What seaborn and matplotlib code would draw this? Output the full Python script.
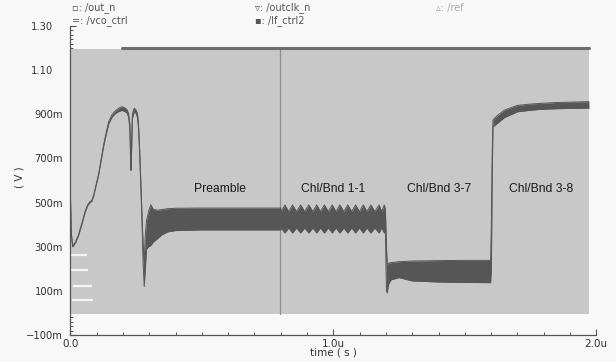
import numpy as np
import pandas as pd
import matplotlib
matplotlib.use("Agg")
import matplotlib.pyplot as plt
import seaborn as sns
from matplotlib.ticker import FixedLocator, MultipleLocator

# ---------------- data (time in microseconds, voltage in volts) ----------------
# vco_ctrl envelope: startup + preamble
t_start = [0.000, 0.004, 0.009, 0.020, 0.031, 0.045, 0.056, 0.066, 0.075, 0.082,
           0.089, 0.098, 0.108, 0.118, 0.127, 0.137, 0.146, 0.158, 0.171, 0.185,
           0.196, 0.207, 0.215, 0.221, 0.226, 0.229, 0.231, 0.233, 0.236, 0.243,
           0.249, 0.255, 0.259, 0.263, 0.268, 0.272, 0.277, 0.281, 0.285, 0.290,
           0.298, 0.306, 0.315, 0.330, 0.347, 0.370, 0.400, 0.500, 0.600, 0.700,
           0.800]
hi_start = [0.56, 0.36, 0.303, 0.322, 0.353, 0.41, 0.458, 0.49, 0.504, 0.51,
            0.534, 0.58, 0.63, 0.70, 0.762, 0.82, 0.866, 0.897, 0.915, 0.928,
            0.934, 0.929, 0.921, 0.905, 0.86, 0.75, 0.66, 0.78, 0.90, 0.927,
            0.921, 0.905, 0.86, 0.76, 0.60, 0.46, 0.30, 0.24, 0.35, 0.42,
            0.46, 0.49, 0.47, 0.465, 0.468, 0.472, 0.474, 0.475, 0.475, 0.475,
            0.475]
lo_start = [0.556, 0.356, 0.299, 0.318, 0.349, 0.406, 0.454, 0.486, 0.50, 0.506,
            0.53, 0.576, 0.626, 0.695, 0.756, 0.812, 0.856, 0.886, 0.903, 0.913,
            0.917, 0.913, 0.906, 0.89, 0.84, 0.70, 0.645, 0.73, 0.88, 0.912,
            0.905, 0.887, 0.84, 0.74, 0.58, 0.44, 0.22, 0.119, 0.20, 0.29,
            0.30, 0.305, 0.32, 0.335, 0.353, 0.367, 0.373, 0.376, 0.376, 0.376,
            0.376]

# Chl/Bnd 1-1 ripple: alternating trough / peak instants
t_ripple = [0.802, 0.816, 0.830, 0.845, 0.860, 0.876, 0.891, 0.907, 0.922, 0.937,
            0.951, 0.966, 0.981, 0.996, 1.010, 1.025, 1.040, 1.055, 1.070, 1.085,
            1.099, 1.114, 1.128, 1.143, 1.158, 1.174, 1.184, 1.194, 1.198]
hi_ripple = [0.459, 0.489, 0.459, 0.489, 0.459, 0.489, 0.459, 0.489, 0.459, 0.489,
             0.459, 0.489, 0.459, 0.489, 0.459, 0.489, 0.459, 0.489, 0.459, 0.489,
             0.459, 0.489, 0.459, 0.489, 0.459, 0.489, 0.459, 0.489, 0.47]
lo_ripple = [0.385, 0.362, 0.385, 0.362, 0.385, 0.362, 0.385, 0.362, 0.385, 0.362,
             0.385, 0.362, 0.385, 0.362, 0.385, 0.362, 0.385, 0.362, 0.385, 0.362,
             0.385, 0.362, 0.385, 0.362, 0.385, 0.362, 0.385, 0.362, 0.37]

# Chl/Bnd 3-7 and Chl/Bnd 3-8
t_late = [1.202, 1.205, 1.210, 1.220, 1.250, 1.300, 1.400, 1.500, 1.598,
          1.601, 1.604, 1.607, 1.620, 1.651, 1.700, 1.750, 1.787, 1.850, 1.972]
hi_late = [0.30, 0.22, 0.225, 0.228, 0.232, 0.235, 0.237, 0.238, 0.238,
           0.40, 0.70, 0.874, 0.89, 0.919, 0.940, 0.946, 0.949, 0.953, 0.957]
lo_late = [0.10, 0.09, 0.13, 0.15, 0.16, 0.145, 0.14, 0.138, 0.137,
           0.20, 0.60, 0.843, 0.855, 0.885, 0.911, 0.918, 0.922, 0.925, 0.928]

# dense clock trace (outclk_n) that fills the background, and the /ref rail
clk_t = [0.0, 1.972]
clk_lo = [-0.005, -0.005]
clk_hi = [1.195, 1.195]
ref_t = [0.197, 1.600, 1.600, 1.972]
ref_v = [1.201, 1.201, 1.199, 1.199]
cursor_t = 0.797

# white dashes of lf_ctrl2 near the start
dash_v = [0.262, 0.194, 0.122, 0.058]
dash_t0 = [0.0, 0.0, 0.01, 0.007]
dash_t1 = [0.063, 0.067, 0.083, 0.087]

region_labels = ["Preamble", "Chl/Bnd 1-1", "Chl/Bnd 3-7", "Chl/Bnd 3-8"]
region_t = [0.571, 0.998, 1.403, 1.79]
region_v = [0.56, 0.56, 0.56, 0.56]

ytick_vals = [-0.1, 0.1, 0.3, 0.5, 0.7, 0.9, 1.1, 1.3]
ytick_labels = ["\u2212100m", "100m", "300m", "500m", "700m", "900m", "1.10", "1.30"]
xtick_vals = [0.0, 1.0, 2.0]
xtick_labels = ["0.0", "1.0u", "2.0u"]

legend_items = ["\u25ab: /out_n", "=: /vco_ctrl", "\u25bf: /outclk_n", "\u25aa: /lf_ctrl2", "\u25b5: /ref"]

# ---------------- styling ----------------
sns.set_theme(style="white")
plt.rcParams["font.family"] = ["DejaVu Sans"]

BG = "#f8f8f8"
GRAY = "#c8c8c8"
DARK = "#565656"
AXC = "#555555"

fig = plt.figure(figsize=(6.16, 3.62), dpi=100, facecolor=BG)
ax = fig.add_axes([70.3 / 616, 1 - 335 / 362, 526 / 616, 309.1 / 362])
ax.set_facecolor(BG)

# background clock fill
ax.fill_between(clk_t, clk_lo, clk_hi, color=GRAY, lw=0, zorder=1)
for v, a, b in zip(dash_v, dash_t0, dash_t1):
    ax.plot([a, b], [v, v], color="#f4f4f4", lw=1.6, solid_capstyle="butt", zorder=2)

# ref rail on top
ref_df = pd.DataFrame({"t": ref_t, "v": ref_v})
sns.lineplot(data=ref_df, x="t", y="v", ax=ax, color="#6c6c6c", lw=2.2, zorder=3,
             sort=False, estimator=None)
ax.axvline(cursor_t, ymin=(-0.005 + 0.1) / 1.4, ymax=(1.195 + 0.1) / 1.4,
           color="#8c8c8c", lw=0.9, zorder=2)

# vco_ctrl band
t_all = t_start + t_ripple + t_late
hi_all = hi_start + hi_ripple + hi_late
lo_all = lo_start + lo_ripple + lo_late
env = pd.DataFrame({"t": t_all, "hi": hi_all, "lo": lo_all})
ax.fill_between(env["t"], env["lo"], env["hi"], color=DARK, lw=0, zorder=4)
sns.lineplot(data=env, x="t", y="hi", ax=ax, color=DARK, lw=0.7, zorder=4,
             sort=False, estimator=None)
sns.lineplot(data=env, x="t", y="lo", ax=ax, color=DARK, lw=0.7, zorder=4,
             sort=False, estimator=None)

for lab, tt, vv in zip(region_labels, region_t, region_v):
    ax.text(tt, vv, lab, ha="center", va="center", fontsize=8.7,
            family="Liberation Sans", color="#1a1a1a", zorder=5)

# axes
ax.set_xlim(0, 2.0)
ax.set_ylim(-0.1, 1.3)
for s in ["top", "right"]:
    ax.spines[s].set_visible(False)
for s in ["left", "bottom"]:
    ax.spines[s].set_color(AXC)
    ax.spines[s].set_linewidth(0.9)
ax.yaxis.set_major_locator(FixedLocator(ytick_vals))
ax.set_yticklabels(ytick_labels)
ax.yaxis.set_minor_locator(MultipleLocator(0.02))
ax.xaxis.set_major_locator(FixedLocator(xtick_vals))
ax.set_xticklabels(xtick_labels)
ax.xaxis.set_minor_locator(MultipleLocator(0.1))
ax.tick_params(axis="y", which="major", direction="in", length=4, width=0.8,
               color=AXC, labelsize=7.2, labelcolor="#333333", pad=5.2, left=True)
ax.tick_params(axis="y", which="minor", direction="in", length=2, width=0.7,
               color=AXC, left=True)
ax.tick_params(axis="x", which="major", direction="in", length=4, width=0.8,
               color=AXC, labelsize=7.5, labelcolor="#333333", pad=3, bottom=True)
ax.tick_params(axis="x", which="minor", direction="in", length=2, width=0.7,
               color=AXC, bottom=True)
# unit-less labels (1.10, 1.30) sit further left: the "m" suffix hangs past the digits
yticks = ax.yaxis.get_major_ticks()
for i in (6, 7):
    yticks[i].label1.set_x(-10 / 526)

ax.set_xlabel("time ( s )", fontsize=7.5, color="#333333", labelpad=-1)
ax.set_ylabel("( V )", fontsize=7.5, color="#333333")
ax.yaxis.set_label_coords(-0.087, 0.51)

# legend header
leg_x = [72, 72, 255, 255, 436]
leg_y = [8, 20.5, 8, 20.5, 8]
leg_c = ["#555555", "#555555", "#555555", "#555555", "#aaaaaa"]
for txt, x, y, c in zip(legend_items, leg_x, leg_y, leg_c):
    fig.text(x / 616, 1 - y / 362, txt, fontsize=7, color=c, ha="left", va="center")

fig.savefig("out.png", dpi=100, facecolor=BG)
